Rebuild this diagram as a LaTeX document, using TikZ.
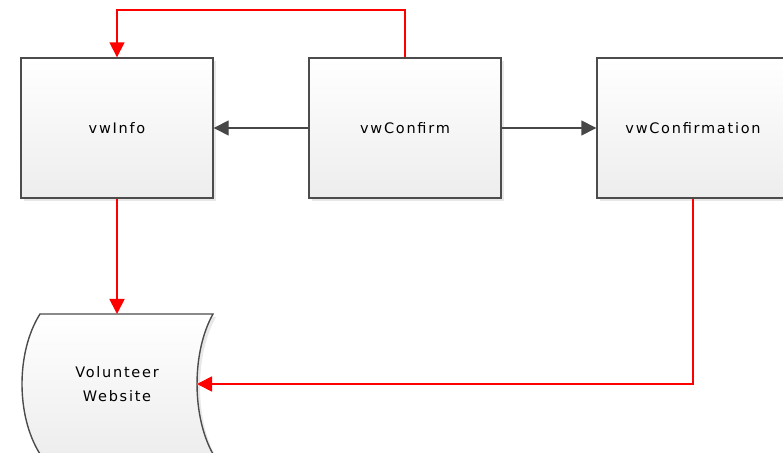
\documentclass[tikz,border=0pt]{standalone}
\usepackage{fontspec}
\setmainfont{DejaVu Sans}[LetterSpace=12]
\usetikzlibrary{arrows.meta,shadows}

\tikzset{
  viewbox/.style={draw=black!70, line width=1.4pt, top color=white, bottom color=black!7,
    minimum width=192pt, minimum height=140pt, inner sep=0pt,
    drop shadow={opacity=0.18, shadow xshift=3pt, shadow yshift=-3pt},
    font=\fontsize{14.5}{18}\selectfont},
  grayflow/.style={draw=black!72, line width=1.4pt, -{Triangle[length=15pt,width=15pt]}},
  redflow/.style={draw=red, line width=1.7pt, -{Triangle[length=15pt,width=15pt]}},
}

\begin{document}
\begin{tikzpicture}[x=1pt,y=1pt]
  \useasboundingbox (0,0) rectangle (783,452);
  % views
  \node[viewbox] (vwInfo) at (117,324) {vwInfo};
  \node[viewbox] (vwConfirm) at (405,324) {vwConfirm};
  \node[viewbox] (vwConfirmation) at (693,324) {vwConfirmation};
  % stored data shape for the website
  \path[draw=black!70, line width=1.4pt, top color=white, bottom color=black!7,
    drop shadow={opacity=0.18, shadow xshift=3pt, shadow yshift=-3pt}]
    (40,138) -- (213,138) .. controls (191.7,100) and (191.7,36) .. (213,-2)
    -- (40,-2) .. controls (16,36) and (16,100) .. (40,138) -- cycle;
  \node[align=center, font=\fontsize{14.5}{24}\selectfont] (website) at (117,68) {Volunteer\\Website};
  \coordinate (webTop) at (117,138);
  \coordinate (webRight) at (197,68);
  % connectors
  \draw[grayflow] (vwConfirm) -- (vwInfo);
  \draw[grayflow] (vwConfirm) -- (vwConfirmation);
  \draw[redflow] (vwConfirm.north) -- ++(0,47) -| (vwInfo.north);
  \draw[redflow] (vwInfo.south) -- (webTop);
  \draw[redflow] (vwConfirmation.south) |- (webRight);
\end{tikzpicture}
\end{document}
